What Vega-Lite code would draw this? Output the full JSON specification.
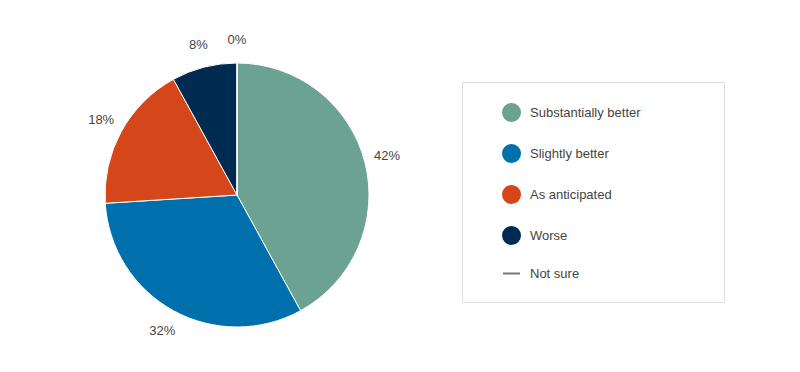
{
  "$schema": "https://vega.github.io/schema/vega-lite/v6.json",
  "width": 474,
  "height": 354,
  "autosize": {"type": "none"},
  "padding": {"left": 0, "top": 18, "right": 326, "bottom": 0},
  "background": "white",
  "config": {
    "view": {"stroke": null},
    "font": "Liberation Sans",
    "legend": {
      "titleOrient": "right",
      "titlePadding": 62,
      "titleColor": "rgba(0,0,0,0)",
      "padding": 21,
      "symbolOffset": 19,
      "symbolSize": 289,
      "symbolStrokeWidth": 2,
      "symbolOpacity": 1,
      "rowPadding": 16,
      "labelFontSize": 13,
      "labelColor": "#444444",
      "labelOffset": 9,
      "strokeColor": "#dddddd",
      "fillColor": "white"
    }
  },
  "data": {
    "values": [
      {"response": "Substantially better", "share": 42, "rank": 1, "label": "42%"},
      {"response": "Slightly better", "share": 32, "rank": 2, "label": "32%"},
      {"response": "As anticipated", "share": 18, "rank": 3, "label": "18%"},
      {"response": "Worse", "share": 8, "rank": 4, "label": "8%"},
      {"response": "Not sure", "share": 0, "rank": 5, "label": "0%"}
    ]
  },
  "layer": [
    {
      "mark": {"type": "arc", "outerRadius": 132, "stroke": "white", "strokeWidth": 1},
      "encoding": {
        "theta": {"field": "share", "type": "quantitative", "stack": true},
        "order": {"field": "rank", "type": "quantitative"},
        "color": {
          "field": "response",
          "type": "nominal",
          "sort": null,
          "title": "\u00a0",
          "scale": {
            "domain": ["Substantially better", "Slightly better", "As anticipated", "Worse", "Not sure"],
            "range": ["#6BA292", "#0070AD", "#D5461A", "#002B50", "#777777"]
          },
          "legend": {"orient": "none", "legendX": 462, "legendY": 64}
        }
      }
    },
    {
      "mark": {"type": "point", "opacity": 0},
      "encoding": {
        "color": {
          "field": "response",
          "type": "nominal",
          "sort": null,
          "title": "\u00a0",
          "legend": {"orient": "none", "legendX": 462, "legendY": 64}
        },
        "shape": {
          "field": "response",
          "type": "nominal",
          "sort": null,
          "title": "\u00a0",
          "scale": {
            "domain": ["Substantially better", "Slightly better", "As anticipated", "Worse", "Not sure"],
            "range": ["circle", "circle", "circle", "circle", "stroke"]
          },
          "legend": {"orient": "none", "legendX": 462, "legendY": 64}
        }
      }
    },
    {
      "mark": {"type": "text", "radius": 155, "fontSize": 13, "fill": "#444444"},
      "encoding": {
        "theta": {"field": "share", "type": "quantitative", "stack": true},
        "order": {"field": "rank", "type": "quantitative"},
        "text": {"field": "label", "type": "nominal"}
      }
    }
  ]
}
